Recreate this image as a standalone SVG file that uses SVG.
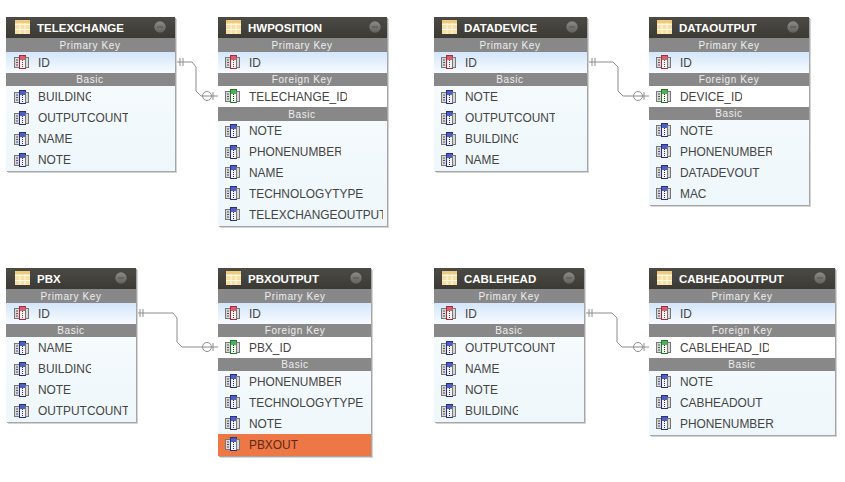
<svg xmlns="http://www.w3.org/2000/svg" width="845" height="482" viewBox="0 0 845 482">
<style>
text{font-family:"Liberation Sans",Arial,sans-serif}
.body{fill:url(#bodyG)}
.sh1{fill:#a6a6a6}
.sh2{fill:#d4d4d4}
.head{fill:url(#headG)}
.bar{fill:#888}
.pk{fill:url(#pkG)}
.fk{fill:#fff}
.title{font-size:11.5px;font-weight:bold;fill:#fff}
.sec{font-size:10px;fill:#eee;text-anchor:middle;letter-spacing:.6px}
.row{font-size:11.9px;fill:#444}
.conn{fill:none;stroke:#8c8c8c;stroke-width:1}
</style>
<defs>
<linearGradient id="bodyG" x1="0" y1="0" x2="0" y2="1"><stop offset="0" stop-color="#fbfdfe"/><stop offset="1" stop-color="#eef7fb"/></linearGradient>
<linearGradient id="headG" x1="0" y1="0" x2="0" y2="1"><stop offset="0" stop-color="#4c4a44"/><stop offset="1" stop-color="#3c3a34"/></linearGradient>
<linearGradient id="pkG" x1="0" y1="0" x2="0" y2="1"><stop offset="0" stop-color="#d3e6fa"/><stop offset="1" stop-color="#f8fbff"/></linearGradient>
<linearGradient id="minG" x1="0" y1="0" x2="0" y2="1"><stop offset="0" stop-color="#8a8a86"/><stop offset="1" stop-color="#62625e"/></linearGradient>
<clipPath id="cB"><rect x="0" y="-12" width="53" height="17"/></clipPath>
<clipPath id="cO"><rect x="0" y="-12" width="90" height="17"/></clipPath>
<clipPath id="cP"><rect x="0" y="-12" width="92" height="17"/></clipPath>
<clipPath id="cT"><rect x="0" y="-12" width="134" height="17"/></clipPath>
<clipPath id="cE"><rect x="0" y="-12" width="98" height="17"/></clipPath>
<clipPath id="cC"><rect x="0" y="-12" width="89" height="17"/></clipPath>
<clipPath id="cD"><rect x="0" y="-12" width="62" height="17"/></clipPath>
<symbol id="tbl" viewBox="0 0 15 14" width="15" height="14"><rect width="15" height="14" fill="#f6e0a6"/><path d="M0 4.500H15M0 9.500H15M5 0V14M10 0V14" stroke="#fff8e4" stroke-width="1"/><rect width="15" height="3" fill="#efca7c"/></symbol>
<symbol id="mn" viewBox="0 0 12 12" width="12" height="12"><circle cx="6" cy="6" r="5.700" fill="url(#minG)"/><path d="M3 6H9" stroke="#55554f"/></symbol>
<symbol id="kr" viewBox="0 0 15 16" width="15" height="16"><rect x="0.500" y="3.500" width="5" height="10" fill="#d8d8d8" stroke="#777"/><path d="M2 6H4M2 8.500H4M2 11H4" stroke="#555"/><rect x="5.500" y="1.500" width="6" height="13" fill="#f4f0f0" stroke="#b02838"/><rect x="6" y="2" width="5" height="4" fill="#d86070"/><path d="M8.500 6V14" stroke="#555" stroke-dasharray="1 1"/><rect x="11.500" y="3.500" width="3" height="10" fill="#d8d8d8" stroke="#777"/></symbol>
<symbol id="kb" viewBox="0 0 15 16" width="15" height="16"><rect x="0.500" y="3.500" width="5" height="10" fill="#d8d8d8" stroke="#777"/><path d="M2 6H4M2 8.500H4M2 11H4" stroke="#555"/><rect x="5.500" y="1.500" width="6" height="13" fill="#f0f0f8" stroke="#26308c"/><rect x="6" y="2" width="5" height="4" fill="#5060c0"/><path d="M8.500 6V14" stroke="#333" stroke-dasharray="1 1"/><rect x="11.500" y="3.500" width="3" height="10" fill="#d8d8d8" stroke="#777"/></symbol>
<symbol id="kg" viewBox="0 0 15 16" width="15" height="16"><rect x="0.500" y="3.500" width="5" height="10" fill="#d8d8d8" stroke="#777"/><path d="M2 6H4M2 8.500H4M2 11H4" stroke="#555"/><rect x="5.500" y="1.500" width="6" height="13" fill="#eef8ee" stroke="#1f7a28"/><rect x="6" y="2" width="5" height="4" fill="#50b058"/><path d="M8.500 6V14" stroke="#333" stroke-dasharray="1 1"/><rect x="11.500" y="3.500" width="3" height="10" fill="#d8d8d8" stroke="#777"/></symbol>
</defs>
<rect width="845" height="482" fill="#fff"/>

<g id="connectors" class="conn">
<path d="M176 62H192L196 67V91L201 96H218M180 58V66M183 58V66M213 92V100"/><circle cx="207" cy="96" r="4.500"/>
<path d="M588 62H613L618 67V91L623 96H649M592 58V66M595 58V66M644 92V100"/><circle cx="638" cy="96" r="4.500"/>
<path d="M137 313H173L177 318V342L182 347H218M140 309V317M143 309V317M213 343V351"/><circle cx="207" cy="347" r="4.500"/>
<path d="M585 313H612L617 318V342L622 347H649M589 309V317M592 309V317M644 343V351"/><circle cx="638" cy="347" r="4.500"/>
</g>

<g id="TELEXCHANGE">
<rect class="sh2" x="8" y="19" width="169" height="154"/><rect class="sh1" x="7" y="18" width="169" height="154"/><rect class="body" x="6" y="17" width="169" height="154"/>
<rect class="head" x="6" y="17" width="169" height="21"/><use href="#tbl" x="15" y="20"/><text class="title" x="37" y="32">TELEXCHANGE</text><use href="#mn" x="154" y="21"/>
<rect class="bar" x="6" y="38" width="169" height="14"/><text class="sec" x="90" y="49">Primary Key</text>
<rect class="pk" x="6" y="52" width="169" height="21"/><use href="#kr" x="14" y="54"/><text class="row" x="38" y="67">ID</text>
<rect class="bar" x="6" y="73" width="169" height="13"/><text class="sec" x="90" y="83">Basic</text>
<use href="#kb" x="14" y="89"/><text class="row" transform="translate(38 101)" clip-path="url(#cB)">BUILDING</text>
<use href="#kb" x="14" y="110"/><text class="row" transform="translate(38 122)" clip-path="url(#cO)">OUTPUTCOUNT</text>
<use href="#kb" x="14" y="131"/><text class="row" x="38" y="143">NAME</text>
<use href="#kb" x="14" y="152"/><text class="row" x="38" y="164">NOTE</text>
</g>

<g id="HWPOSITION">
<rect class="sh2" x="220" y="19" width="169" height="209"/><rect class="sh1" x="219" y="18" width="169" height="209"/><rect class="body" x="218" y="17" width="169" height="209"/>
<rect class="head" x="218" y="17" width="169" height="21"/><use href="#tbl" x="226" y="20"/><text class="title" x="248" y="32">HWPOSITION</text><use href="#mn" x="369" y="21"/>
<rect class="bar" x="218" y="38" width="169" height="14"/><text class="sec" x="302" y="49">Primary Key</text>
<rect class="pk" x="218" y="52" width="169" height="21"/><use href="#kr" x="225" y="54"/><text class="row" x="249" y="67">ID</text>
<rect class="bar" x="218" y="73" width="169" height="13"/><text class="sec" x="302" y="83">Foreign Key</text>
<rect class="fk" x="218" y="86" width="169" height="21"/><use href="#kg" x="225" y="88"/><text class="row" transform="translate(249 101)" clip-path="url(#cE)">TELECHANGE_ID</text>
<rect class="bar" x="218" y="107" width="169" height="14"/><text class="sec" x="302" y="118">Basic</text>
<use href="#kb" x="225" y="123"/><text class="row" x="249" y="135">NOTE</text>
<use href="#kb" x="225" y="144"/><text class="row" transform="translate(249 156)" clip-path="url(#cP)">PHONENUMBER</text>
<use href="#kb" x="225" y="164"/><text class="row" x="249" y="177">NAME</text>
<use href="#kb" x="225" y="185"/><text class="row" x="249" y="198">TECHNOLOGYTYPE</text>
<use href="#kb" x="225" y="206"/><text class="row" transform="translate(249 219)" clip-path="url(#cT)">TELEXCHANGEOUTPUT</text>
</g>

<g id="DATADEVICE">
<rect class="sh2" x="436" y="19" width="153" height="154"/><rect class="sh1" x="435" y="18" width="153" height="154"/><rect class="body" x="434" y="17" width="153" height="154"/>
<rect class="head" x="434" y="17" width="153" height="21"/><use href="#tbl" x="442" y="20"/><text class="title" x="464" y="32">DATADEVICE</text><use href="#mn" x="566" y="21"/>
<rect class="bar" x="434" y="38" width="153" height="14"/><text class="sec" x="510" y="49">Primary Key</text>
<rect class="pk" x="434" y="52" width="153" height="21"/><use href="#kr" x="441" y="54"/><text class="row" x="465" y="67">ID</text>
<rect class="bar" x="434" y="73" width="153" height="13"/><text class="sec" x="510" y="83">Basic</text>
<use href="#kb" x="441" y="89"/><text class="row" x="465" y="101">NOTE</text>
<use href="#kb" x="441" y="110"/><text class="row" transform="translate(465 122)" clip-path="url(#cO)">OUTPUTCOUNT</text>
<use href="#kb" x="441" y="131"/><text class="row" transform="translate(465 143)" clip-path="url(#cB)">BUILDING</text>
<use href="#kb" x="441" y="152"/><text class="row" x="465" y="164">NAME</text>
</g>

<g id="DATAOUTPUT">
<rect class="sh2" x="651" y="19" width="160" height="188"/><rect class="sh1" x="650" y="18" width="160" height="188"/><rect class="body" x="649" y="17" width="160" height="188"/>
<rect class="head" x="649" y="17" width="160" height="21"/><use href="#tbl" x="657" y="20"/><text class="title" x="679" y="32">DATAOUTPUT</text><use href="#mn" x="787" y="21"/>
<rect class="bar" x="649" y="38" width="160" height="14"/><text class="sec" x="729" y="49">Primary Key</text>
<rect class="pk" x="649" y="52" width="160" height="21"/><use href="#kr" x="656" y="54"/><text class="row" x="680" y="67">ID</text>
<rect class="bar" x="649" y="73" width="160" height="13"/><text class="sec" x="729" y="83">Foreign Key</text>
<rect class="fk" x="649" y="86" width="160" height="21"/><use href="#kg" x="656" y="88"/><text class="row" transform="translate(680 101)" clip-path="url(#cD)">DEVICE_ID</text>
<rect class="bar" x="649" y="107" width="160" height="13"/><text class="sec" x="729" y="117">Basic</text>
<use href="#kb" x="656" y="122"/><text class="row" x="680" y="135">NOTE</text>
<use href="#kb" x="656" y="143"/><text class="row" transform="translate(680 156)" clip-path="url(#cP)">PHONENUMBER</text>
<use href="#kb" x="656" y="164"/><text class="row" x="680" y="177">DATADEVOUT</text>
<use href="#kb" x="656" y="185"/><text class="row" x="680" y="198">MAC</text>
</g>

<g id="PBX">
<rect class="sh2" x="8" y="270" width="130" height="154"/><rect class="sh1" x="7" y="269" width="130" height="154"/><rect class="body" x="6" y="268" width="130" height="154"/>
<rect class="head" x="6" y="268" width="130" height="21"/><use href="#tbl" x="15" y="271"/><text class="title" x="37" y="283">PBX</text><use href="#mn" x="115" y="272"/>
<rect class="bar" x="6" y="289" width="130" height="14"/><text class="sec" x="71" y="300">Primary Key</text>
<rect class="pk" x="6" y="303" width="130" height="21"/><use href="#kr" x="14" y="305"/><text class="row" x="38" y="318">ID</text>
<rect class="bar" x="6" y="324" width="130" height="13"/><text class="sec" x="71" y="334">Basic</text>
<use href="#kb" x="14" y="340"/><text class="row" x="38" y="352">NAME</text>
<use href="#kb" x="14" y="361"/><text class="row" transform="translate(38 373)" clip-path="url(#cB)">BUILDING</text>
<use href="#kb" x="14" y="382"/><text class="row" x="38" y="394">NOTE</text>
<use href="#kb" x="14" y="403"/><text class="row" transform="translate(38 415)" clip-path="url(#cO)">OUTPUTCOUNT</text>
</g>

<g id="PBXOUTPUT">
<rect class="sh2" x="220" y="270" width="153" height="188"/><rect class="sh1" x="219" y="269" width="153" height="188"/><rect class="body" x="218" y="268" width="153" height="188"/>
<rect class="head" x="218" y="268" width="153" height="21"/><use href="#tbl" x="226" y="271"/><text class="title" x="248" y="283">PBXOUTPUT</text><use href="#mn" x="350" y="272"/>
<rect class="bar" x="218" y="289" width="153" height="14"/><text class="sec" x="295" y="300">Primary Key</text>
<rect class="pk" x="218" y="303" width="153" height="21"/><use href="#kr" x="225" y="305"/><text class="row" x="249" y="318">ID</text>
<rect class="bar" x="218" y="324" width="153" height="13"/><text class="sec" x="295" y="334">Foreign Key</text>
<rect class="fk" x="218" y="337" width="153" height="21"/><use href="#kg" x="225" y="339"/><text class="row" x="249" y="352">PBX_ID</text>
<rect class="bar" x="218" y="358" width="153" height="13"/><text class="sec" x="295" y="368">Basic</text>
<use href="#kb" x="225" y="373"/><text class="row" transform="translate(249 386)" clip-path="url(#cP)">PHONENUMBER</text>
<use href="#kb" x="225" y="394"/><text class="row" x="249" y="407">TECHNOLOGYTYPE</text>
<use href="#kb" x="225" y="415"/><text class="row" x="249" y="428">NOTE</text>
<rect x="218" y="434" width="153" height="22" fill="#ee7845"/><use href="#kb" x="225" y="436"/><text class="row" x="249" y="449" style="fill:#5a2a18">PBXOUT</text>
</g>

<g id="CABLEHEAD">
<rect class="sh2" x="436" y="270" width="150" height="154"/><rect class="sh1" x="435" y="269" width="150" height="154"/><rect class="body" x="434" y="268" width="150" height="154"/>
<rect class="head" x="434" y="268" width="150" height="21"/><use href="#tbl" x="442" y="271"/><text class="title" x="464" y="283">CABLEHEAD</text><use href="#mn" x="563" y="272"/>
<rect class="bar" x="434" y="289" width="150" height="14"/><text class="sec" x="509" y="300">Primary Key</text>
<rect class="pk" x="434" y="303" width="150" height="21"/><use href="#kr" x="441" y="305"/><text class="row" x="465" y="318">ID</text>
<rect class="bar" x="434" y="324" width="150" height="13"/><text class="sec" x="509" y="334">Basic</text>
<use href="#kb" x="441" y="340"/><text class="row" transform="translate(465 352)" clip-path="url(#cO)">OUTPUTCOUNT</text>
<use href="#kb" x="441" y="361"/><text class="row" x="465" y="373">NAME</text>
<use href="#kb" x="441" y="382"/><text class="row" x="465" y="394">NOTE</text>
<use href="#kb" x="441" y="403"/><text class="row" transform="translate(465 415)" clip-path="url(#cB)">BUILDING</text>
</g>

<g id="CABHEADOUTPUT">
<rect class="sh2" x="651" y="270" width="186" height="167"/><rect class="sh1" x="650" y="269" width="186" height="167"/><rect class="body" x="649" y="268" width="186" height="167"/>
<rect class="head" x="649" y="268" width="186" height="21"/><use href="#tbl" x="657" y="271"/><text class="title" x="679" y="283">CABHEADOUTPUT</text><use href="#mn" x="814" y="272"/>
<rect class="bar" x="649" y="289" width="186" height="14"/><text class="sec" x="742" y="300">Primary Key</text>
<rect class="pk" x="649" y="303" width="186" height="21"/><use href="#kr" x="656" y="305"/><text class="row" x="680" y="318">ID</text>
<rect class="bar" x="649" y="324" width="186" height="13"/><text class="sec" x="742" y="334">Foreign Key</text>
<rect class="fk" x="649" y="337" width="186" height="21"/><use href="#kg" x="656" y="339"/><text class="row" transform="translate(680 352)" clip-path="url(#cC)">CABLEHEAD_ID</text>
<rect class="bar" x="649" y="358" width="186" height="13"/><text class="sec" x="742" y="368">Basic</text>
<use href="#kb" x="656" y="373"/><text class="row" x="680" y="386">NOTE</text>
<use href="#kb" x="656" y="394"/><text class="row" x="680" y="407">CABHEADOUT</text>
<use href="#kb" x="656" y="415"/><text class="row" x="680" y="428">PHONENUMBER</text>
</g>
</svg>
